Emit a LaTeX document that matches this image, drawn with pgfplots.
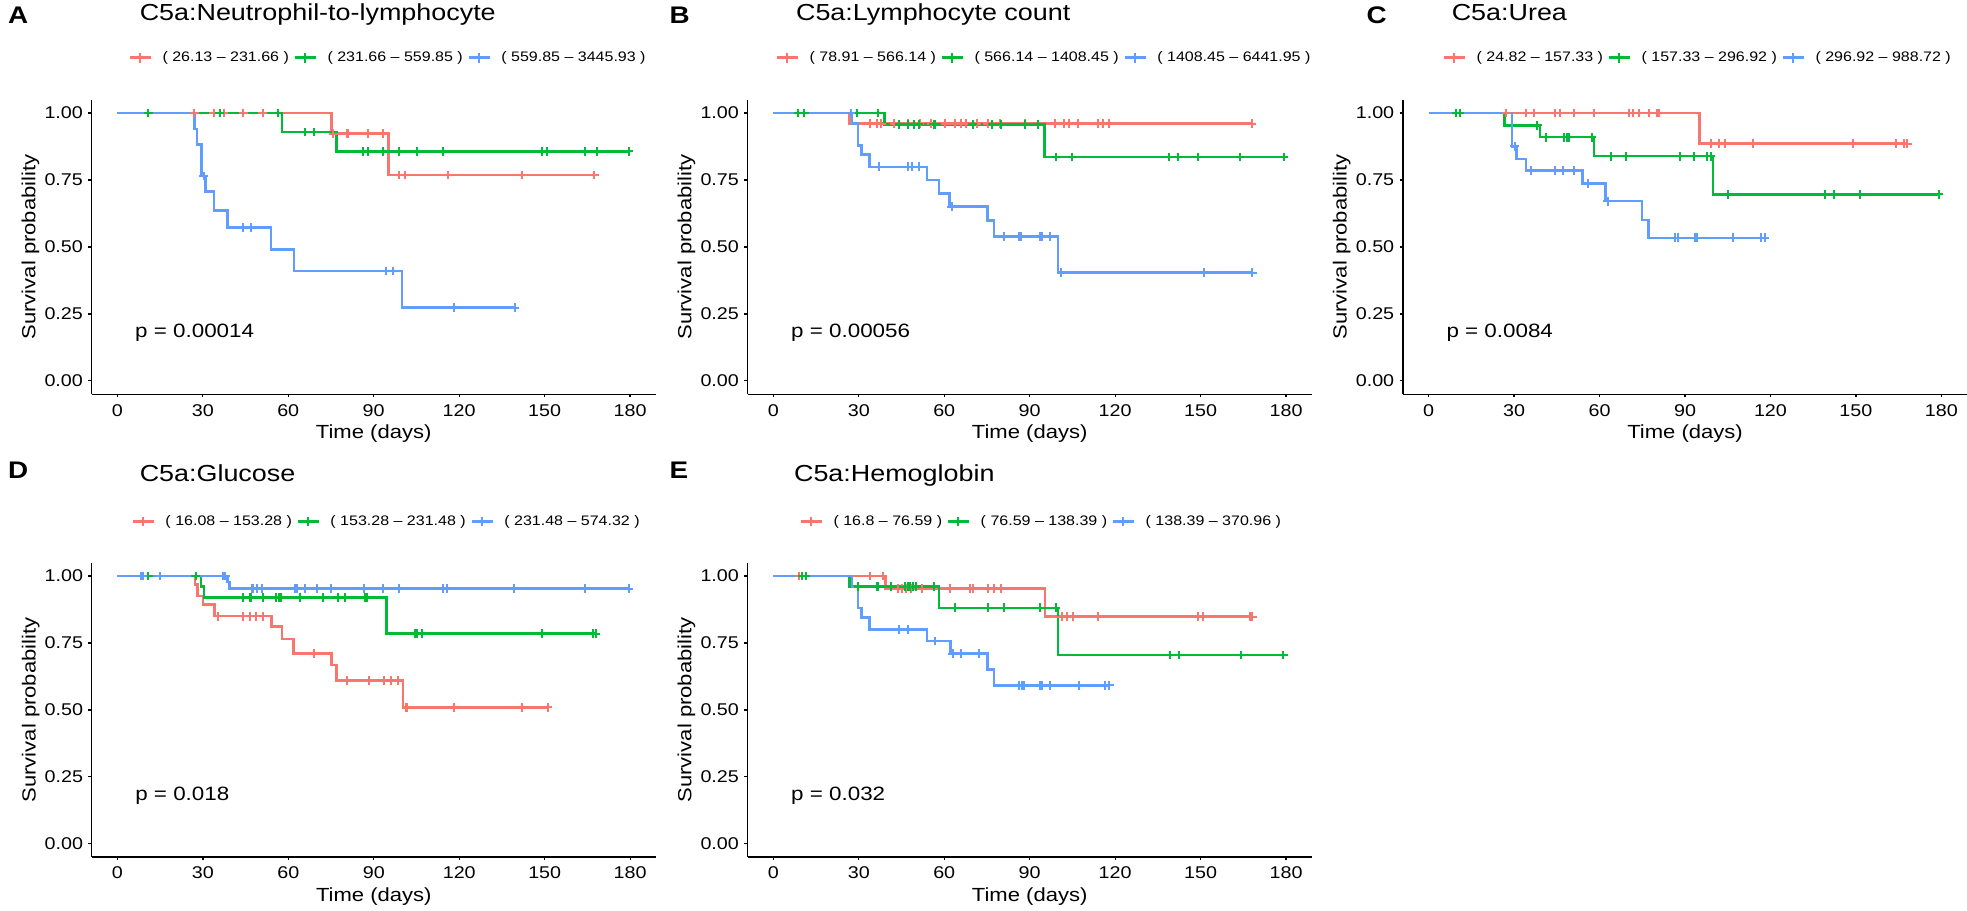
\documentclass[border=0pt]{standalone}
\usepackage{fontspec}
\setmainfont{Liberation Sans}[FakeStretch=1.16]
\usepackage{pgfplots}
\pgfplotsset{compat=1.18}
\definecolor{kmred}{HTML}{F8766D}
\definecolor{kmgreen}{HTML}{00BA38}
\definecolor{kmblue}{HTML}{619CFF}
\newcommand\fs[1]{\fontsize{#1}{#1}\selectfont}
\tikzset{pval/.style={anchor=base west, font=\fs{9.65pt}}}
\pgfplotsset{
  km/.style={
    scale only axis, width=282pt, height=147.25pt,
    xmin=-9, xmax=189, ymin=-0.05, ymax=1.05,
    axis lines=left, axis line style={-, line width=0.65pt, black},
    xtick={0,30,60,90,120,150,180}, ytick={0,0.25,0.5,0.75,1},
    tick align=outside, major tick length=1.65pt,
    every tick/.style={line width=0.65pt, black},
    /pgf/number format/assume math mode=true,
    ticklabel style={font=\fs{8.5pt}, text=black},
    xticklabel style={inner sep=0pt, inner ysep=3.15pt},
    yticklabel style={inner sep=0pt, inner xsep=2.55pt, /pgf/number format/.cd, fixed, fixed zerofill, precision=2},
    xlabel={Time (days)}, ylabel={Survival probability},
    xlabel style={at={(axis description cs:0.5,-0.1351)}, anchor=center, font=\fs{9.5pt}},
    ylabel style={at={(axis description cs:-0.1085,0.5)}, anchor=center, font=\fs{9.5pt}},
    legend columns=3,
    legend style={draw=none, fill=none, inner sep=0pt, outer sep=0pt, anchor=west,
      font=\fs{6.9pt}, nodes={inner sep=0pt}, column sep=0pt,
      /tikz/every even column/.append style={column sep=2.25pt}},
    legend image code/.code={
      \draw[#1] (0pt,0pt) -- (10.5pt,0pt);
      \draw[#1, line width=1pt] (5.25pt,-2.4pt) -- (5.25pt,2.4pt);
      \path (15.75pt,0pt);},
  },
  kmline/.style={const plot, line width=1.3pt},
  kmcens/.style={only marks, mark=+, mark size=2.2pt, mark options={line width=1pt}, forget plot},
}
\begin{document}
\begin{tikzpicture}
\path[use as bounding box] (0pt,0pt) rectangle (983.5pt,455.5pt);
% ---------- titles and panel letters
\node[anchor=base west, font=\fs{12pt}\bfseries] at (0.5pt,443.5pt) {A};
\node[anchor=base west, font=\fs{12pt}\bfseries] at (331.3pt,443.5pt) {B};
\node[anchor=base west, font=\fs{12pt}\bfseries] at (679.8pt,443.5pt) {C};
\node[anchor=base west, font=\fs{12pt}\bfseries] at (0.5pt,216pt) {D};
\node[anchor=base west, font=\fs{12pt}\bfseries] at (331.3pt,216pt) {E};
\node[anchor=base west, font=\fs{11.6pt}] at (66.35pt,445pt) {C5a:Neutrophil-to-lymphocyte};
\node[anchor=base west, font=\fs{11.6pt}] at (394.5pt,445pt) {C5a:Lymphocyte count};
\node[anchor=base west, font=\fs{11.6pt}] at (722.35pt,445pt) {C5a:Urea};
\node[anchor=base west, font=\fs{11.6pt}] at (66.35pt,214.5pt) {C5a:Glucose};
\node[anchor=base west, font=\fs{11.6pt}] at (393.5pt,214.5pt) {C5a:Hemoglobin};

% ---------- A
\begin{axis}[km, at={(45.85pt,258.4pt)}, anchor=south west,
  legend style={at={(axis description cs:0.0652,1.1426)}}]
\addplot[kmline, kmred] coordinates {(0,1) (75.2,0.923) (95.2,0.769) (167.5,0.769)};
\addlegendentry{( 26.13 – 231.66 )}
\addplot[kmline, kmgreen] coordinates {(0,1) (57.8,0.929) (77,0.857) (179.5,0.857)};
\addlegendentry{( 231.66 – 559.85 )}
\addplot[kmline, kmblue] coordinates {(0,1) (27,0.941) (28,0.882) (29.5,0.765) (31,0.706) (34,0.637) (38.6,0.573) (54,0.491) (62,0.41) (100,0.273) (139.5,0.273)};
\addlegendentry{( 559.85 – 3445.93 )}
\addplot[kmcens, kmred] coordinates {(27,1) (33.8,1) (37.4,1) (44.2,1) (51.1,1) (75.8,0.923) (80.5,0.923) (81.1,0.923) (88.1,0.923) (93.2,0.923) (99,0.769) (101,0.769) (116.2,0.769) (142,0.769) (167.5,0.769)};
\addplot[kmcens, kmgreen] coordinates {(10.8,1) (35.9,1) (56.3,1) (65.9,0.929) (69,0.929) (86.1,0.857) (87.9,0.857) (93.2,0.857) (99,0.857) (105.1,0.857) (114.2,0.857) (149.1,0.857) (150.9,0.857) (164.2,0.857) (168.3,0.857) (179.5,0.857)};
\addplot[kmcens, kmblue] coordinates {(30.3,0.765) (44.2,0.573) (47,0.573) (94.4,0.41) (96.9,0.41) (118.1,0.273) (139.5,0.273)};
\node[pval] at (axis cs:3.8,0.163) {p = 0.00014};
\end{axis}

% ---------- B
\begin{axis}[km, at={(373.85pt,258.4pt)}, anchor=south west,
  legend style={at={(axis description cs:0.0493,1.1426)}}]
\addplot[kmline, kmred] coordinates {(0,1) (26.7,0.961) (168,0.961)};
\addlegendentry{( 78.91 – 566.14 )}
\addplot[kmline, kmgreen] coordinates {(0,1) (39,0.958) (95.1,0.836) (179.3,0.836)};
\addlegendentry{( 566.14 – 1408.45 )}
\addplot[kmline, kmblue] coordinates {(0,1) (27.6,0.961) (29.7,0.88) (30.9,0.845) (33.8,0.799) (54,0.75) (58.2,0.70) (61.9,0.651) (75.2,0.598) (77.4,0.54) (100,0.404) (168.2,0.404)};
\addlegendentry{( 1408.45 – 6441.95 )}
\addplot[kmcens, kmred] coordinates {(34.1,0.961) (36.3,0.961) (37.9,0.961) (42.4,0.961) (47.1,0.961) (51.5,0.961) (55.5,0.961) (60.4,0.961) (63.6,0.961) (65.9,0.961) (67.8,0.961) (71.5,0.961) (75.2,0.961) (79.6,0.961) (88.2,0.961) (98.8,0.961) (102.2,0.961) (103.7,0.961) (106.9,0.961) (113.8,0.961) (115.8,0.961) (118,0.961) (168,0.961)};
\addplot[kmcens, kmgreen] coordinates {(8.7,1) (10.9,1) (29.4,1) (36.8,1) (44.2,0.958) (47.1,0.958) (49.3,0.958) (51.1,0.958) (56.3,0.958) (56.7,0.958) (70,0.958) (76.9,0.958) (80,0.958) (88.2,0.958) (92.9,0.958) (99.1,0.836) (105,0.836) (138.9,0.836) (142,0.836) (149,0.836) (164,0.836) (179.3,0.836)};
\addplot[kmcens, kmblue] coordinates {(27.2,1) (37.1,0.799) (47.4,0.799) (48.6,0.799) (51.2,0.799) (62.6,0.651) (81.1,0.54) (86.2,0.54) (87,0.54) (93.6,0.54) (94.4,0.54) (97,0.54) (101,0.404) (151.2,0.404) (168.2,0.404)};
\node[pval] at (axis cs:3.8,0.163) {p = 0.00056};
\end{axis}

% ---------- C
\begin{axis}[km, at={(701.5pt,258.4pt)}, anchor=south west,
  legend style={at={(axis description cs:0.0702,1.1426)}}]
\addplot[kmline, kmred] coordinates {(0,1) (95.1,0.886) (168,0.886)};
\addlegendentry{( 24.82 – 157.33 )}
\addplot[kmline, kmgreen] coordinates {(0,1) (26.7,0.954) (39.1,0.91) (58.1,0.839) (99.8,0.696) (179,0.696)};
\addlegendentry{( 157.33 – 296.92 )}
\addplot[kmline, kmblue] coordinates {(0,1) (29.3,0.876) (30.9,0.829) (34.2,0.786) (54,0.736) (62.1,0.671) (74.9,0.601) (77.2,0.534) (118.1,0.534)};
\addlegendentry{( 296.92 – 988.72 )}
\addplot[kmcens, kmred] coordinates {(27.2,1) (34.2,1) (36.9,1) (44.3,1) (46.1,1) (50.9,1) (58.1,1) (70.3,1) (71.9,1) (74,1) (77.2,1) (80.1,1) (80.9,1) (99.1,0.886) (102.1,0.886) (103.9,0.886) (114,0.886) (149.1,0.886) (164,0.886) (167,0.886) (168,0.886)};
\addplot[kmcens, kmgreen] coordinates {(9.6,1) (11,1) (38.2,0.954) (41.2,0.91) (47.6,0.91) (48.4,0.91) (49.1,0.91) (57.3,0.91) (64,0.839) (69.3,0.839) (88.2,0.839) (93.1,0.839) (97.6,0.839) (99.1,0.839) (105.1,0.696) (139.1,0.696) (142.4,0.696) (151.3,0.696) (179,0.696)};
\addplot[kmcens, kmblue] coordinates {(30.2,0.876) (36,0.786) (44.3,0.786) (47.3,0.786) (50.9,0.786) (56.1,0.736) (62.8,0.671) (86.4,0.534) (87.6,0.534) (93.6,0.534) (94.2,0.534) (107,0.534) (116.6,0.534) (118.1,0.534)};
\node[pval] at (axis cs:3.8,0.163) {p = 0.0084};
\end{axis}

% ---------- D
\begin{axis}[km, at={(45.9pt,26.95pt)}, anchor=south west,
  legend style={at={(axis description cs:0.0702,1.1389)}}]
\addplot[kmline, kmred] coordinates {(0,1) (27.2,0.969) (28.2,0.925) (30,0.894) (34.1,0.85) (54.1,0.811) (57.8,0.765) (61.8,0.71) (75.1,0.667) (77,0.609) (100.3,0.509) (151,0.509)};
\addlegendentry{( 16.08 – 153.28 )}
\addplot[kmline, kmgreen] coordinates {(0,1) (29.4,0.96) (30.4,0.919) (94.4,0.785) (168,0.785)};
\addlegendentry{( 153.28 – 231.48 )}
\addplot[kmline, kmblue] coordinates {(0,1) (38.6,0.977) (39.3,0.953) (179.5,0.953)};
\addlegendentry{( 231.48 – 574.32 )}
\addplot[kmcens, kmred] coordinates {(35.3,0.85) (44.2,0.85) (46.4,0.85) (48.6,0.85) (51.1,0.85) (68.9,0.71) (80.7,0.609) (88.4,0.609) (93.5,0.609) (96.2,0.609) (98.4,0.609) (101.4,0.509) (101.8,0.509) (118.1,0.509) (142,0.509) (151,0.509)};
\addplot[kmcens, kmgreen] coordinates {(10.8,1) (27.5,1) (44.2,0.919) (46.4,0.919) (47,0.919) (51.1,0.919) (55.6,0.919) (56.6,0.919) (57.5,0.919) (64,0.919) (72.1,0.919) (77.3,0.919) (79.9,0.919) (86.9,0.919) (87.6,0.919) (104.3,0.785) (105.1,0.785) (107,0.785) (149.1,0.785) (166.8,0.785) (168,0.785)};
\addplot[kmcens, kmblue] coordinates {(8.3,1) (9,1) (14.9,1) (37.1,1) (37.8,1) (47.1,0.953) (47.7,0.953) (48.9,0.953) (50.7,0.953) (62.2,0.953) (63,0.953) (65.9,0.953) (69.9,0.953) (75.1,0.953) (86.6,0.953) (93.3,0.953) (98.9,0.953) (114.4,0.953) (115.7,0.953) (139.1,0.953) (164.2,0.953) (179.5,0.953)};
\node[pval] at (axis cs:3.8,0.163) {p = 0.018};
\end{axis}

% ---------- E
\begin{axis}[km, at={(373.85pt,26.95pt)}, anchor=south west,
  legend style={at={(axis description cs:0.0918,1.1389)}}]
\addplot[kmline, kmred] coordinates {(0,1) (39.4,0.953) (95.4,0.848) (168.2,0.848)};
\addlegendentry{( 16.8 – 76.59 )}
\addplot[kmline, kmgreen] coordinates {(0,1) (26.7,0.96) (58.2,0.881) (100,0.705) (179,0.705)};
\addlegendentry{( 76.59 – 138.39 )}
\addplot[kmline, kmblue] coordinates {(0,1) (27.6,0.959) (29.7,0.881) (30.9,0.844) (33.8,0.80) (54,0.757) (62.2,0.71) (75.2,0.65) (77.4,0.592) (118,0.592)};
\addlegendentry{( 138.39 – 370.96 )}
\addplot[kmcens, kmred] coordinates {(9,1) (34.1,1) (38.5,1) (43.7,0.953) (45.3,0.953) (46.7,0.953) (48.3,0.953) (52.3,0.953) (61.9,0.953) (69.2,0.953) (70,0.953) (75.2,0.953) (77.4,0.953) (80,0.953) (101.3,0.848) (103.2,0.848) (105.1,0.848) (114,0.848) (149,0.848) (150.8,0.848) (167.4,0.848) (168.2,0.848)};
\addplot[kmcens, kmgreen] coordinates {(10.2,1) (11.4,1) (29.7,0.96) (36.3,0.96) (36.8,0.96) (41.2,0.96) (46.1,0.96) (47.1,0.96) (48.1,0.96) (48.9,0.96) (50.1,0.96) (56.3,0.96) (63.8,0.881) (75.2,0.881) (81.1,0.881) (93.6,0.881) (99.1,0.881) (139.1,0.705) (142.3,0.705) (164.2,0.705) (179,0.705)};
\addplot[kmcens, kmblue] coordinates {(44.2,0.80) (47.4,0.80) (56.7,0.757) (63,0.71) (66,0.71) (72.2,0.71) (86.2,0.592) (87.3,0.592) (88,0.592) (93.6,0.592) (94.4,0.592) (97,0.592) (107.3,0.592) (116.5,0.592) (118,0.592)};
\node[pval] at (axis cs:3.8,0.163) {p = 0.032};
\end{axis}
\end{tikzpicture}
\end{document}
